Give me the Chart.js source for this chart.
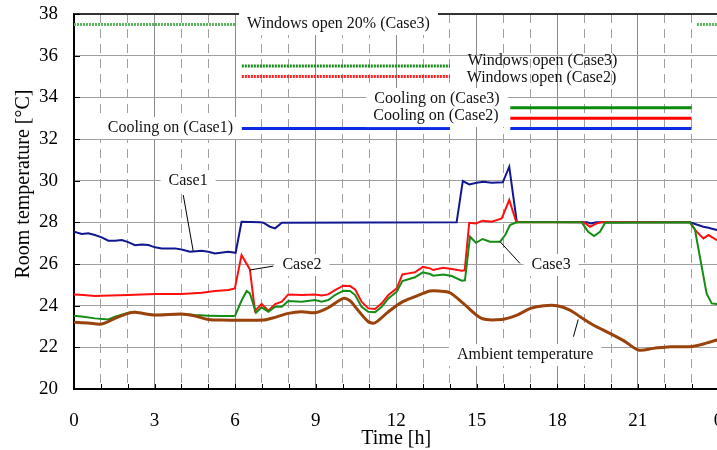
<!DOCTYPE html>
<html>
<head>
<meta charset="utf-8">
<title>Room temperature</title>
<script src="https://cdn.jsdelivr.net/npm/chart.js@4.4.1/dist/chart.umd.min.js"></script>
<style>
    html, body { margin: 0; padding: 0; background: #fff; overflow: hidden; }
    canvas { display: block; }
</style>
</head>
<body>
<canvas id="myChart" width="740" height="450"></canvas>
<script>
// thời gian [h] và nhiệt độ [°C]
const case1Time = [0, 0.29, 0.53, 0.78, 1.03, 1.28, 1.53, 1.78, 2.02, 2.27, 2.52, 2.77, 3.02, 3.27, 3.76, 4.01, 4.32, 4.76, 5.0, 5.25, 5.75, 6.02, 6.24, 6.93, 7.05, 7.3, 7.49, 7.74, 14.25, 14.48, 14.72, 15.0, 15.24, 15.56, 15.97, 16.21, 16.49, 19.1, 19.25, 19.45, 22.94, 23.44, 23.63, 23.94, 24];
const case1Temp = [27.55, 27.44, 27.47, 27.39, 27.28, 27.12, 27.12, 27.15, 27.05, 26.9, 26.94, 26.91, 26.8, 26.75, 26.75, 26.7, 26.59, 26.64, 26.59, 26.51, 26.59, 26.54, 28.03, 28.0, 27.98, 27.79, 27.71, 27.98, 28.0, 29.98, 29.82, 29.9, 29.95, 29.9, 29.92, 30.67, 28.03, 28.0, 27.95, 28.0, 28.0, 27.79, 27.74, 27.63, 27.6];

const case2Time = [0, 0.35, 0.78, 1.03, 2.02, 3.02, 4.01, 4.76, 5.25, 5.75, 5.99, 6.24, 6.55, 6.74, 6.99, 7.24, 7.49, 7.74, 7.98, 8.48, 8.98, 9.22, 9.47, 9.72, 10.03, 10.28, 10.47, 10.71, 10.96, 11.21, 11.46, 11.71, 12.02, 12.23, 12.45, 12.7, 12.99, 13.26, 13.38, 13.75, 14.07, 14.44, 14.55, 14.72, 14.97, 15.22, 15.56, 15.93, 16.21, 16.46, 16.6, 19.0, 19.22, 19.47, 19.65, 22.94, 23.19, 23.44, 23.63, 23.94, 24];
const case2Temp = [24.54, 24.51, 24.46, 24.48, 24.51, 24.56, 24.56, 24.62, 24.7, 24.75, 24.83, 26.43, 25.74, 23.75, 24.08, 23.76, 24.08, 24.19, 24.54, 24.51, 24.54, 24.49, 24.54, 24.75, 24.96, 24.94, 24.78, 24.19, 23.87, 23.84, 24.11, 24.51, 24.83, 25.5, 25.55, 25.6, 25.86, 25.79, 25.71, 25.82, 25.76, 25.68, 25.7, 27.98, 27.95, 28.08, 28.03, 28.19, 29.07, 28.06, 28.0, 28.0, 27.79, 27.95, 28.0, 28.0, 27.55, 27.23, 27.39, 27.15, 27.15];

const case3Time = [0, 0.35, 0.78, 1.28, 1.53, 2.02, 2.27, 2.52, 3.02, 3.51, 4.01, 4.51, 5.0, 5.5, 5.93, 6.0, 6.25, 6.43, 6.55, 6.78, 6.99, 7.24, 7.49, 7.74, 7.98, 8.48, 8.98, 9.22, 9.47, 9.72, 10.03, 10.28, 10.47, 10.71, 10.96, 11.21, 11.46, 11.71, 12.02, 12.23, 12.7, 12.99, 13.26, 13.38, 13.75, 14.07, 14.44, 14.56, 14.75, 14.97, 15.22, 15.49, 15.87, 16.06, 16.24, 16.43, 16.6, 18.91, 19.15, 19.37, 19.59, 19.78, 22.94, 23.13, 23.31, 23.56, 23.75, 23.94, 24];
const case3Temp = [23.52, 23.47, 23.39, 23.34, 23.47, 23.66, 23.71, 23.63, 23.55, 23.58, 23.6, 23.55, 23.52, 23.5, 23.5, 23.52, 24.27, 24.7, 24.59, 23.66, 23.92, 23.71, 23.95, 23.95, 24.22, 24.19, 24.27, 24.19, 24.27, 24.51, 24.72, 24.7, 24.51, 23.95, 23.71, 23.68, 23.95, 24.35, 24.67, 25.18, 25.36, 25.6, 25.52, 25.44, 25.5, 25.42, 25.2, 25.22, 27.31, 27.02, 27.2, 27.07, 27.07, 27.39, 27.87, 27.98, 28.0, 28.0, 27.55, 27.34, 27.55, 27.98, 28.0, 27.63, 26.35, 24.59, 24.11, 24.08, 24.08];

const ambientTime = [0, 0.53, 1.03, 1.53, 2.02, 2.27, 3.02, 4.01, 4.51, 5.0, 5.5, 7.05, 7.49, 7.98, 8.48, 8.98, 9.47, 10.03, 10.28, 10.47, 10.96, 11.21, 11.71, 12.2, 12.7, 13.26, 13.6, 14.0, 14.5, 15.18, 15.93, 16.5, 17.0, 17.5, 18.0, 18.47, 18.85, 19.34, 19.96, 20.5, 21.02, 21.58, 22.2, 22.94, 23.44, 23.94, 24];
const ambientTemp = [23.2, 23.17, 23.12, 23.39, 23.63, 23.68, 23.55, 23.6, 23.5, 23.34, 23.31, 23.31, 23.44, 23.63, 23.71, 23.66, 23.9, 24.35, 24.24, 23.95, 23.23, 23.18, 23.71, 24.16, 24.43, 24.7, 24.7, 24.62, 24.11, 23.39, 23.34, 23.55, 23.87, 24.0, 24.0, 23.79, 23.47, 23.07, 22.67, 22.3, 21.87, 21.95, 22.03, 22.03, 22.16, 22.35, 22.37];

// lịch vận hành: [bắt đầu, kết thúc] theo giờ
const win20Case3 = [[0, 6], [23.2, 24]];
const winCase3 = [[6.25, 14]];
const winCase2 = [[6.25, 14]];
const coolCase1 = [[6.25, 14], [16.25, 23]];
const coolCase2 = [[16.25, 23]];
const coolCase3 = [[16.25, 23]];

const xTicks = [0, 3, 6, 9, 12, 15, 18, 21, 24];
const yTicks = [20, 22, 24, 26, 28, 30, 32, 34, 36, 38];

const FONT = '"Liberation Serif", "Times New Roman", serif';

function toPoints(t, v) {
    return t.map((x, i) => ({ x: x, y: v[i] }));
}

// mỗi khoảng là một đoạn ngang, ngắt bằng null
function barPoints(ranges, level) {
    const pts = [];
    ranges.forEach((r, i) => {
        if (i > 0) pts.push({ x: r[0], y: null });
        pts.push({ x: r[0], y: level }, { x: r[1], y: level });
    });
    return pts;
}

// nhãn chú thích (vị trí theo đơn vị dữ liệu)
const notes = [
    { text: "Windows open 20% (Case3)", x: 9.85, y: 37.52, box: true },
    { text: "Windows open (Case3)", x: 17.45, y: 35.74, box: false },
    { text: "Windows open (Case2)", x: 17.41, y: 34.93, box: false },
    { text: "Cooling on (Case3)", x: 13.52, y: 33.92, box: true },
    { text: "Cooling on (Case2)", x: 13.48, y: 33.1, box: true },
    { text: "Cooling on (Case1)", x: 3.59, y: 32.53, box: true },
    { text: "Case1", x: 4.25, y: 29.98, box: true },
    { text: "Case2", x: 8.49, y: 25.95, box: true },
    { text: "Case3", x: 17.77, y: 25.95, box: true },
    { text: "Ambient temperature", x: 16.8, y: 21.63, box: true },
];
const leaders = [
    [4.07, 29.31, 4.44, 26.62],
    [7.42, 25.9, 6.55, 25.71],
    [16.61, 26.03, 15.87, 27.07],
    [18.6, 22.51, 18.78, 23.34],
];

const notesPlugin = {
    id: "notes",
    afterDatasetsDraw(chart) {
        const { ctx, chartArea: a, scales: { x, y } } = chart;
        ctx.save();
        // viền trên
        ctx.strokeStyle = "#333";
        ctx.lineWidth = 2;
        ctx.beginPath();
        ctx.moveTo(a.left, a.top);
        ctx.lineTo(a.right, a.top);
        ctx.stroke();
        // vạch chia hướng vào trong
        ctx.strokeStyle = "#000";
        ctx.lineWidth = 1;
        ctx.beginPath();
        x.ticks.forEach((t) => {
            const px = Math.round(x.getPixelForValue(t.value)) + 0.5;
            ctx.moveTo(px, a.bottom);
            ctx.lineTo(px, a.bottom - 5);
        });
        y.ticks.forEach((t) => {
            const py = Math.round(y.getPixelForValue(t.value)) + 0.5;
            ctx.moveTo(a.left, py);
            ctx.lineTo(a.left + 6, py);
        });
        ctx.stroke();

        ctx.font = "16px " + FONT;
        ctx.textAlign = "center";
        ctx.textBaseline = "middle";
        notes.forEach((n) => {
            if (!n.box) return;
            const px = x.getPixelForValue(n.x);
            const py = y.getPixelForValue(n.y);
            const w = ctx.measureText(n.text).width;
            ctx.fillStyle = "#fff";
            ctx.fillRect(px - w / 2 - 8, py - 11, w + 16, 22);
        });
        ctx.strokeStyle = "#000";
        ctx.lineWidth = 1;
        leaders.forEach((l) => {
            ctx.beginPath();
            ctx.moveTo(x.getPixelForValue(l[0]), y.getPixelForValue(l[1]));
            ctx.lineTo(x.getPixelForValue(l[2]), y.getPixelForValue(l[3]));
            ctx.stroke();
        });
        ctx.fillStyle = "#111";
        notes.forEach((n) => {
            ctx.fillText(n.text, x.getPixelForValue(n.x), y.getPixelForValue(n.y));
        });
        ctx.restore();
    },
};

const ctx = document.getElementById("myChart").getContext("2d");

const lineSet = (label, data, color, width) => ({
    label: label,
    data: data,
    borderColor: color,
    borderWidth: width,
    pointRadius: 0,
    fill: false,
    spanGaps: false,
});

const myChart = new Chart(ctx, {
    type: "line",
    data: {
        datasets: [
            Object.assign(lineSet("Ambient temperature", toPoints(ambientTime, ambientTemp), "#9a420c", 3), { tension: 0.3 }),
            lineSet("Case3", toPoints(case3Time, case3Temp), "#158c15", 2),
            lineSet("Case2", toPoints(case2Time, case2Temp), "#ff1010", 2),
            lineSet("Case1", toPoints(case1Time, case1Temp), "#101890", 2),
            Object.assign(lineSet("Windows open 20% (Case3)", barPoints(win20Case3, 37.5), "#5cb85c", 3), { borderDash: [2, 1] }),
            Object.assign(lineSet("Windows open (Case3)", barPoints(winCase3, 35.5), "#1a8a1a", 3), { borderDash: [2, 1] }),
            Object.assign(lineSet("Windows open (Case2)", barPoints(winCase2, 35), "#ff2020", 3), { borderDash: [2, 1] }),
            lineSet("Cooling on (Case3)", barPoints(coolCase3, 33.5), "#0b8a0b", 3),
            lineSet("Cooling on (Case2)", barPoints(coolCase2, 33), "#ff0000", 3),
            lineSet("Cooling on (Case1)", barPoints(coolCase1, 32.5), "#0a28e6", 3),
        ],
    },
    options: {
        responsive: false,
        animation: false,
        layout: { padding: { left: 0, top: 14, right: 21.6, bottom: 0 } },
        plugins: {
            legend: { display: false },
            tooltip: { enabled: false },
        },
        elements: { line: { tension: 0 } },
        scales: {
            x: {
                type: "linear",
                min: 0,
                max: 24,
                afterFit: (axis) => {
                    axis.height = 61;
                    axis.paddingLeft = 0;
                    axis.paddingRight = 0;
                },
                ticks: {
                    stepSize: 1,
                    autoSkip: false,
                    maxRotation: 0,
                    padding: 21,
                    color: "#000",
                    font: { family: FONT, size: 19 },
                    callback: (v) => (xTicks.includes(v) ? String(v % 24) : ""),
                },
                grid: {
                    drawTicks: false,
                    lineWidth: 1,
                    color: (c) => (c.tick && xTicks.includes(c.tick.value) ? "#8a8a8a" : "#a0a0a0"),
                },
                border: {
                    color: "#000",
                    width: 2,
                    dash: (c) => (c.tick && !xTicks.includes(c.tick.value) ? [9, 6] : []),
                },
                title: {
                    display: true,
                    text: "Time [h]",
                    color: "#000",
                    font: { family: FONT, size: 20, lineHeight: 1 },
                    padding: { top: 0, bottom: 1 },
                },
            },
            y: {
                min: 20,
                max: 38,
                afterFit: (axis) => {
                    axis.width = 74;
                    axis.paddingTop = 0;
                    axis.paddingBottom = 0;
                },
                afterBuildTicks: (axis) => { axis.ticks = yTicks.map((v) => ({ value: v })); },
                ticks: {
                    padding: 16,
                    color: "#000",
                    font: { family: FONT, size: 19 },
                },
                grid: {
                    drawTicks: false,
                    lineWidth: 1,
                    color: "#a0a0a0",
                },
                border: { color: "#000", width: 2 },
                title: {
                    display: true,
                    text: "       Room temperature [°C]",
                    color: "#000",
                    font: { family: FONT, size: 20, lineHeight: 1 },
                    padding: { top: 14, bottom: 0 },
                },
            },
        },
    },
    plugins: [notesPlugin],
});
</script>
</body>
</html>
